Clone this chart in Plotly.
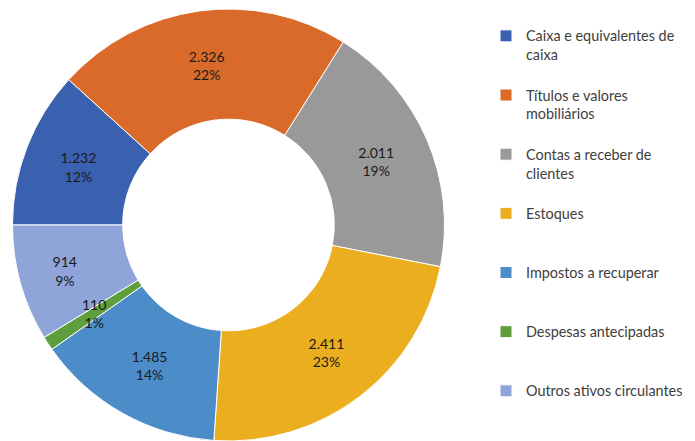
import math
import plotly.graph_objects as go

categories = [
    "Caixa e equivalentes de<br>caixa",
    "Títulos e valores<br>mobiliários",
    "Contas a receber de<br>clientes",
    "Estoques",
    "Impostos a recuperar",
    "Despesas antecipadas",
    "Outros ativos circulantes",
]
values = [1232, 2326, 2011, 2411, 1485, 110, 914]
colors = ["#3A60B0", "#DA6A2A", "#999999", "#EBAE1E", "#4C8CC8", "#5E9E3C", "#8FA4D8"]

W, H = 695, 441
ROT = 270
HOLE = 0.49
dom_x = [4 / W, 437 / W]
dom_y = [8 / H, 440 / H]

# pad legend names so that every entry takes the same height
legend_names = []
for c in categories:
    n = c.count("<br>") + 1
    legend_names.append(c + "<br> " * (3 - n))

total = sum(values)
small = [v / total < 0.03 for v in values]
text_pos = ["none" if s else "inside" for s in small]

fig = go.Figure(go.Pie(
    labels=legend_names,
    values=values,
    sort=False,
    direction="clockwise",
    rotation=ROT,
    hole=HOLE,
    marker=dict(colors=colors, line=dict(color="white", width=1)),
    texttemplate="%{value:,}<br>%{percent:.0%}",
    textposition=text_pos,
    insidetextorientation="horizontal",
    textfont=dict(family="Lato", size=14, color="#1a1a1a"),
    domain=dict(x=dom_x, y=dom_y),
))

# labels for slices too thin to hold their text: centred on the ring like the others
cx = (dom_x[0] + dom_x[1]) / 2 * W
cy = (dom_y[0] + dom_y[1]) / 2 * H
R = min((dom_x[1] - dom_x[0]) * W, (dom_y[1] - dom_y[0]) * H) / 2
rmid = R * (1 + HOLE) / 2
cum = 0
for v, s in zip(values, small):
    if s:
        a = math.radians(ROT + 360 * (cum + v / 2) / total)
        px = cx + rmid * math.sin(a)
        py = cy + rmid * math.cos(a)
        fig.add_annotation(
            x=px / W, y=py / H, xref="paper", yref="paper",
            xanchor="center", yanchor="middle",
            text=f"{v:,}".replace(",", ".") + f"<br>{round(100 * v / total)}%",
            showarrow=False,
            font=dict(family="Lato", size=14, color="#1a1a1a"),
        )
    cum += v

fig.update_layout(
    width=W, height=H,
    margin=dict(l=0, r=0, t=0, b=0),
    paper_bgcolor="white",
    separators=",.",
    uniformtext=dict(minsize=14, mode="show"),
    legend=dict(
        x=478 / W, xanchor="left",
        y=1 - 12 / H, yanchor="top",
        valign="top",
        font=dict(family="Lato", size=14.4, color="#404040"),
        itemwidth=30,
    ),
)

fig.write_html("out.html")
